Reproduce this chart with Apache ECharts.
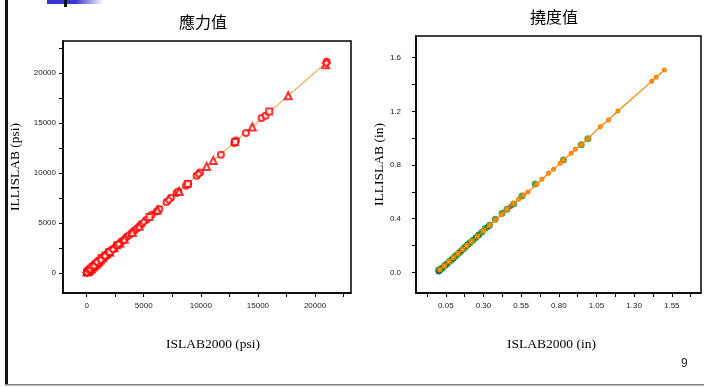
<!DOCTYPE html>
<html>
<head>
<meta charset="utf-8">
<script src="https://cdn.jsdelivr.net/npm/echarts@6/dist/echarts.min.js"></script>
<style>
html,body{margin:0;padding:0;background:#fff;}
#chart{width:704px;height:387px;}
</style>
</head>
<body>
<div id="chart"></div>
<script>
// ---------- Titles / labels ----------
var stressTitle = '應力值';
var deflTitle = '撓度值';
var stressXName = 'ISLAB2000 (psi)';
var stressYName = 'ILLISLAB (psi)';
var deflXName = 'ISLAB2000 (in)';
var deflYName = 'ILLISLAB (in)';
var pageNumber = '9';

// ---------- Tick values ----------
var stressLabelTicks = [0, 5000, 10000, 15000, 20000];
var stressMinorTicks = [0, 2500, 5000, 7500, 10000, 12500, 15000, 17500, 20000, 22500];
var deflXLabelTicks = [0.05, 0.30, 0.55, 0.80, 1.05, 1.30, 1.55];
var deflXMinorTicks = [-0.075, 0.05, 0.175, 0.30, 0.425, 0.55, 0.675, 0.80, 0.925, 1.05, 1.175, 1.30, 1.425, 1.55, 1.675];
var deflYLabelTicks = [0.0, 0.4, 0.8, 1.2, 1.6];
var deflYMinorTicks = [0.0, 0.2, 0.4, 0.6, 0.8, 1.0, 1.2, 1.4, 1.6];

// ---------- Stress data (psi): [ISLAB2000, ILLISLAB] ----------
var stressCircles = [[0,60],[25,90],[45,70],[60,150],[85,120],[120,200],[140,160],[180,260],[210,230],[250,330],[280,300],[320,420],[350,380],[400,480],[430,450],[480,560],[520,540],[560,650],[600,620],[650,740],[700,720],[750,850],[800,830],[860,950],[920,960],[980,1080],[1040,1070],[1100,1220],[1160,1200],[1230,1350],[1300,1340],[1380,1500],[1450,1480],[1520,1650],[1600,1640],[1700,1850],[1800,1840],[1900,2050],[2050,2120],[2190,2330],[2400,2460],[2630,2760],[2850,2900],[3060,3160],[3280,3330],[3500,3600],[3720,3780],[3940,4000],[4160,4220],[4380,4430],[4600,4650],[4820,4900],[5250,5330],[5690,5830],[6130,6160],[6360,6400],[7000,7100],[7380,7530],[7880,8000],[8020,8160],[8700,8730],[8900,8930],[9630,9730],[9920,10060],[11760,11830],[12930,13000],[13070,13260],[13950,14000],[15320,15500],[15670,15730],[21016,21130]];
var stressTriangles = [[30,100],[100,180],[150,220],[230,290],[300,380],[410,460],[520,600],[610,680],[700,800],[800,870],[900,1000],[1050,1130],[1200,1300],[1420,1520],[1750,1930],[2000,2080],[2400,2520],[2900,2980],[3300,3380],[4000,4060],[4600,4680],[6200,6300],[8100,8150],[10500,10660],[11090,11260],[14500,14600],[17650,17730],[20930,20830]];
var stressSquares = [[90,130],[190,240],[350,420],[540,600],[800,880],[1000,1050],[1310,1500],[1650,1720],[2000,2100],[2700,2780],[5500,5600],[8850,8900],[13000,13100],[15990,16160]];
var stressDiamonds = [[20,40],[200,280],[330,360],[440,660],[660,700],[880,1100],[1250,1290],[1600,1700],[2300,2350],[2800,2900],[5000,5100],[7200,7300],[9800,9900],[20990,21000]];
var stressLine = [[0,50],[2500,2600],[5000,5080],[8000,8100],[11000,11150],[14500,14600],[17650,17730],[21000,21060]];

// ---------- Deflection data (in): [ISLAB2000, ILLISLAB] ----------
var deflNavy = [[0.002,0.006],[0.006,0.01],[0.01,0.014],[0.02,0.024],[0.05,0.055],[0.1,0.104],[0.2,0.21],[0.27,0.28],[0.33,0.34]];
var deflPurple = [[0.15,0.16],[0.25,0.26],[0.48,0.49]];
var deflGreen = [[0.002,0.017],[0.015,0.025],[0.03,0.035],[0.045,0.052],[0.06,0.065],[0.075,0.082],[0.09,0.095],[0.105,0.112],[0.12,0.127],[0.135,0.143],[0.15,0.158],[0.165,0.174],[0.18,0.19],[0.195,0.205],[0.21,0.22],[0.23,0.24],[0.25,0.26],[0.268,0.278],[0.29,0.3],[0.312,0.328],[0.34,0.352],[0.378,0.395],[0.423,0.44],[0.456,0.47],[0.5,0.509],[0.555,0.569],[0.643,0.658],[0.831,0.837],[0.949,0.952],[0.993,0.996]];
var deflOrange = [[0.01,0.02],[0.04,0.05],[0.07,0.08],[0.1,0.11],[0.13,0.14],[0.16,0.17],[0.19,0.2],[0.22,0.23],[0.26,0.27],[0.3,0.31],[0.34,0.35],[0.38,0.39],[0.42,0.43],[0.456,0.47],[0.5,0.514],[0.533,0.544],[0.566,0.576],[0.595,0.599],[0.655,0.658],[0.688,0.694],[0.732,0.738],[0.765,0.768],[0.809,0.813],[0.831,0.837],[0.882,0.887],[0.909,0.917],[0.949,0.952],[0.993,0.996],[1.075,1.086],[1.13,1.136],[1.192,1.203],[1.417,1.424],[1.446,1.454],[1.501,1.509]];

var RED = '#ff0000', ORANGE = '#ff8000', GREEN = '#1f8f1f', NAVY = '#1a2a80', PURPLE = '#7a1a6a';
var tickFont = {fontFamily: 'Liberation Sans, Arial, sans-serif', fontSize: 8, color: '#222'};
var nameFont = {fontFamily: 'Liberation Serif, Times New Roman, serif', fontSize: 13.5, color: '#000'};

function valAxis(opts) {
  return Object.assign({
    type: 'value',
    splitLine: {show: false},
    axisLine: {show: true, onZero: false, lineStyle: {color: '#000', width: 1.5}},
    nameLocation: 'middle',
    nameTextStyle: nameFont
  }, opts);
}

var chart = echarts.init(document.getElementById('chart'), null, {renderer: 'canvas'});
chart.setOption({
  backgroundColor: '#fff',
  animation: false,
  title: [
    {text: stressTitle, left: 198, top: 9, textAlign: 'center',
     textStyle: {fontFamily: 'Noto Sans CJK TC', fontSize: 16, fontWeight: 'normal', color: '#000'}},
    {text: deflTitle, left: 549, top: 4, textAlign: 'center',
     textStyle: {fontFamily: 'Noto Sans CJK TC', fontSize: 16, fontWeight: 'normal', color: '#000'}}
  ],
  grid: [
    {left: 63, top: 41, width: 288, height: 252, show: true, borderColor: '#000', borderWidth: 1.5, backgroundColor: '#fff'},
    {left: 416, top: 36, width: 285, height: 257, show: true, borderColor: '#000', borderWidth: 1.5, backgroundColor: '#fff'}
  ],
  xAxis: [
    valAxis({gridIndex: 0, min: -2070, max: 23150, name: stressXName, nameGap: 44,
      nameTextStyle: Object.assign({padding: [0, 0, 0, 12]}, nameFont),
      axisTick: {show: true, length: 4, customValues: stressMinorTicks, lineStyle: {color: '#000'}},
      axisLabel: Object.assign({margin: 9, customValues: stressLabelTicks, formatter: function (v) { return String(v); }}, tickFont)}),
    valAxis({gridIndex: 1, min: -0.148, max: 1.744, name: deflXName, nameGap: 44,
      nameTextStyle: Object.assign({padding: [0, 14, 0, 0]}, nameFont),
      axisTick: {show: true, length: 4, customValues: deflXMinorTicks, lineStyle: {color: '#000'}},
      axisLabel: Object.assign({margin: 9, customValues: deflXLabelTicks, formatter: function (v) { return v.toFixed(2); }}, tickFont)})
  ],
  yAxis: [
    valAxis({gridIndex: 0, min: -2000, max: 23200, name: stressYName, nameGap: 41,
      axisTick: {show: true, length: 4, customValues: stressMinorTicks, lineStyle: {color: '#000'}},
      axisLabel: Object.assign({margin: 7, customValues: stressLabelTicks, formatter: function (v) { return String(v); }}, tickFont)}),
    valAxis({gridIndex: 1, min: -0.154, max: 1.762, name: deflYName, nameGap: 30,
      axisTick: {show: true, length: 4, customValues: deflYMinorTicks, lineStyle: {color: '#000'}},
      axisLabel: Object.assign({margin: 15, customValues: deflYLabelTicks, formatter: function (v) { return v.toFixed(1); }}, tickFont)})
  ],
  series: [
    {type: 'line', xAxisIndex: 0, yAxisIndex: 0, data: stressLine, showSymbol: false, z: 1,
     lineStyle: {color: ORANGE, width: 1}, itemStyle: {color: ORANGE}},
    {type: 'scatter', xAxisIndex: 0, yAxisIndex: 0, data: stressCircles, symbol: 'emptyCircle', symbolSize: 6, z: 2,
     itemStyle: {color: RED, borderColor: RED, borderWidth: 1.8}},
    {type: 'scatter', xAxisIndex: 0, yAxisIndex: 0, data: stressTriangles, symbol: 'emptyTriangle', symbolSize: 7, z: 2,
     itemStyle: {color: RED, borderColor: RED, borderWidth: 1.5}},
    {type: 'scatter', xAxisIndex: 0, yAxisIndex: 0, data: stressSquares, symbol: 'emptyRect', symbolSize: 6, z: 2,
     itemStyle: {color: RED, borderColor: RED, borderWidth: 1.5}},
    {type: 'scatter', xAxisIndex: 0, yAxisIndex: 0, data: stressDiamonds, symbol: 'emptyDiamond', symbolSize: 7, z: 2,
     itemStyle: {color: RED, borderColor: RED, borderWidth: 1.5}},

    {type: 'scatter', xAxisIndex: 1, yAxisIndex: 1, data: deflNavy, symbol: 'circle', symbolSize: 6, z: 2,
     itemStyle: {color: NAVY}},
    {type: 'scatter', xAxisIndex: 1, yAxisIndex: 1, data: deflPurple, symbol: 'circle', symbolSize: 5, z: 2,
     itemStyle: {color: PURPLE}},
    {type: 'scatter', xAxisIndex: 1, yAxisIndex: 1, data: deflGreen, symbol: 'circle', symbolSize: 7, z: 3,
     itemStyle: {color: GREEN}},
    {type: 'line', xAxisIndex: 1, yAxisIndex: 1, data: deflOrange, symbol: 'emptyCircle', symbolSize: 3, showSymbol: true, z: 4,
     lineStyle: {color: ORANGE, width: 1.2}, itemStyle: {color: ORANGE, borderColor: ORANGE, borderWidth: 1}}
  ],
  graphic: [
    {type: 'rect', shape: {x: 5, y: 0, width: 3, height: 385}, style: {fill: '#111'}, silent: true},
    {type: 'rect', shape: {x: 5, y: 384, width: 699, height: 1.5}, style: {fill: '#808080'}, silent: true},
    {type: 'rect', shape: {x: 47, y: 0, width: 57, height: 4}, silent: true,
     style: {fill: new echarts.graphic.LinearGradient(0, 0, 1, 0, [
       {offset: 0, color: '#3535c8'}, {offset: 0.5, color: '#3a3ad0'}, {offset: 1, color: '#ffffff'}])}},
    {type: 'rect', shape: {x: 64, y: 0, width: 3, height: 7}, style: {fill: '#111'}, silent: true},
    {type: 'text', left: 681, top: 358, silent: true,
     style: {text: pageNumber, font: '12px Liberation Sans, Arial, sans-serif', fill: '#222'}}
  ]
});
</script>
</body>
</html>
